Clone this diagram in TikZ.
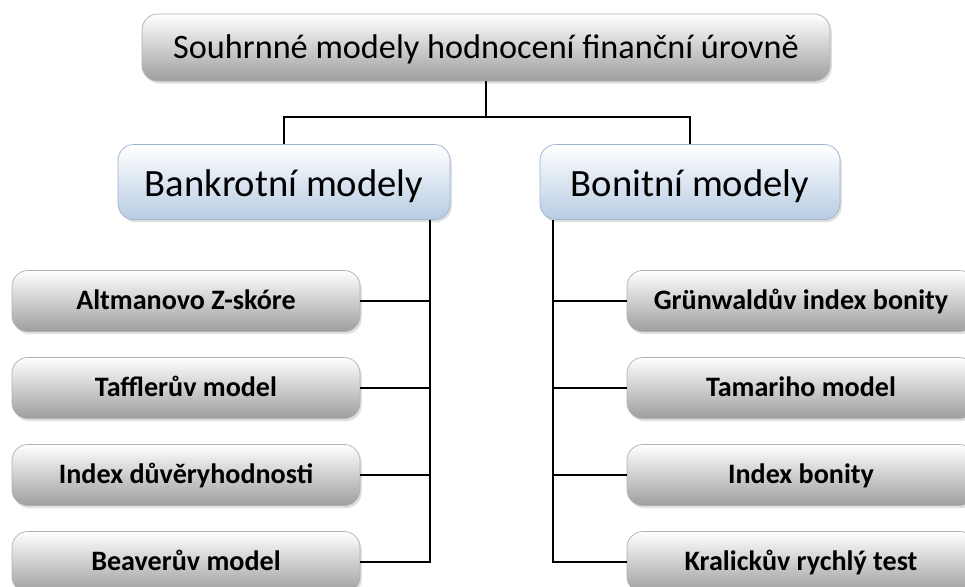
\documentclass[tikz,border=0pt]{standalone}
\usepackage{fontspec}
\setmainfont{Carlito}
\usetikzlibrary{shadows}
\definecolor{boxgray}{rgb}{0.62,0.62,0.62}
\definecolor{boxblue}{rgb}{0.72,0.80,0.89}
\definecolor{edgeblue}{rgb}{0.62,0.70,0.82}

\begin{document}
\begin{tikzpicture}[x=0.02cm, y=-0.02cm,
	 every node/.style={rounded corners=9pt, inner sep=0pt, align=center},
	 graybox/.style={draw=boxgray!80, top color=white, bottom color=boxgray,
	   drop shadow={opacity=0.25, shadow xshift=1pt, shadow yshift=-1.5pt}},
	 rootbox/.style={graybox, minimum width=688*0.02cm, minimum height=67*0.02cm,
	   font=\fontsize{19.5}{22}\selectfont, text height=12.6pt, text depth=0pt},
	 groupbox/.style={draw=edgeblue, top color=white, bottom color=boxblue,
	   drop shadow={opacity=0.25, shadow xshift=1pt, shadow yshift=-1.5pt},
	   font=\fontsize{22}{26}\selectfont, text height=16.4pt, text depth=0pt},
	 leafbox/.style={graybox, minimum width=348*0.02cm, minimum height=61*0.02cm,
	   font=\bfseries\fontsize{16}{18}\selectfont, text height=10pt, text depth=0pt},
	 link/.style={draw, line width=1pt}]
	\useasboundingbox (0,0) rectangle (965,586);
	% top level
	\node (root) at (486,47.5) [rootbox] {Souhrnné modely hodnocení finanční úrovně};
	% groups
	\node (bank) at (284,182) [groupbox, minimum width=332*0.02cm, minimum height=75*0.02cm] {Bankrotní modely};
	\node (bonit) at (690,182) [groupbox, minimum width=300*0.02cm, minimum height=75*0.02cm] {Bonitní modely};
	% bankruptcy models
	\node (altman) at (186,301) [leafbox] {Altmanovo Z-skóre};
	\node (taffler) at (186,388) [leafbox] {Tafflerův model};
	\node (trust) at (186,475) [leafbox] {Index důvěryhodnosti};
	\node (beaver) at (186,562) [leafbox] {Beaverův model};
	% creditworthiness models
	\node (gruen) at (801,301) [leafbox] {Grünwaldův index bonity};
	\node (tamari) at (801,388) [leafbox] {Tamariho model};
	\node (bonity) at (801,475) [leafbox] {Index bonity};
	\node (kralicek) at (801,562) [leafbox] {Kralickův rychlý test};
	% connectors
	\coordinate (split) at (486,117);
	\draw[link] (root.south) -- (split);
	\draw[link] (split) -| (bank.north);
	\draw[link] (split) -| (bonit.north);
	\coordinate (bankbus) at (430,220);
	\coordinate (bonitbus) at (553,220);
	\draw[link] (bankbus |- bank.south) -- (bankbus |- beaver.east) -- (beaver.east);
	\draw[link] (bonitbus |- bonit.south) -- (bonitbus |- kralicek.west) -- (kralicek.west);
	\foreach \leaf in {altman, taffler, trust}
	  \draw[link] (\leaf.east) -- (\leaf.east -| bankbus);
	\foreach \leaf in {gruen, tamari, bonity}
	  \draw[link] (\leaf.west) -- (\leaf.west -| bonitbus);
\end{tikzpicture}
\end{document}
